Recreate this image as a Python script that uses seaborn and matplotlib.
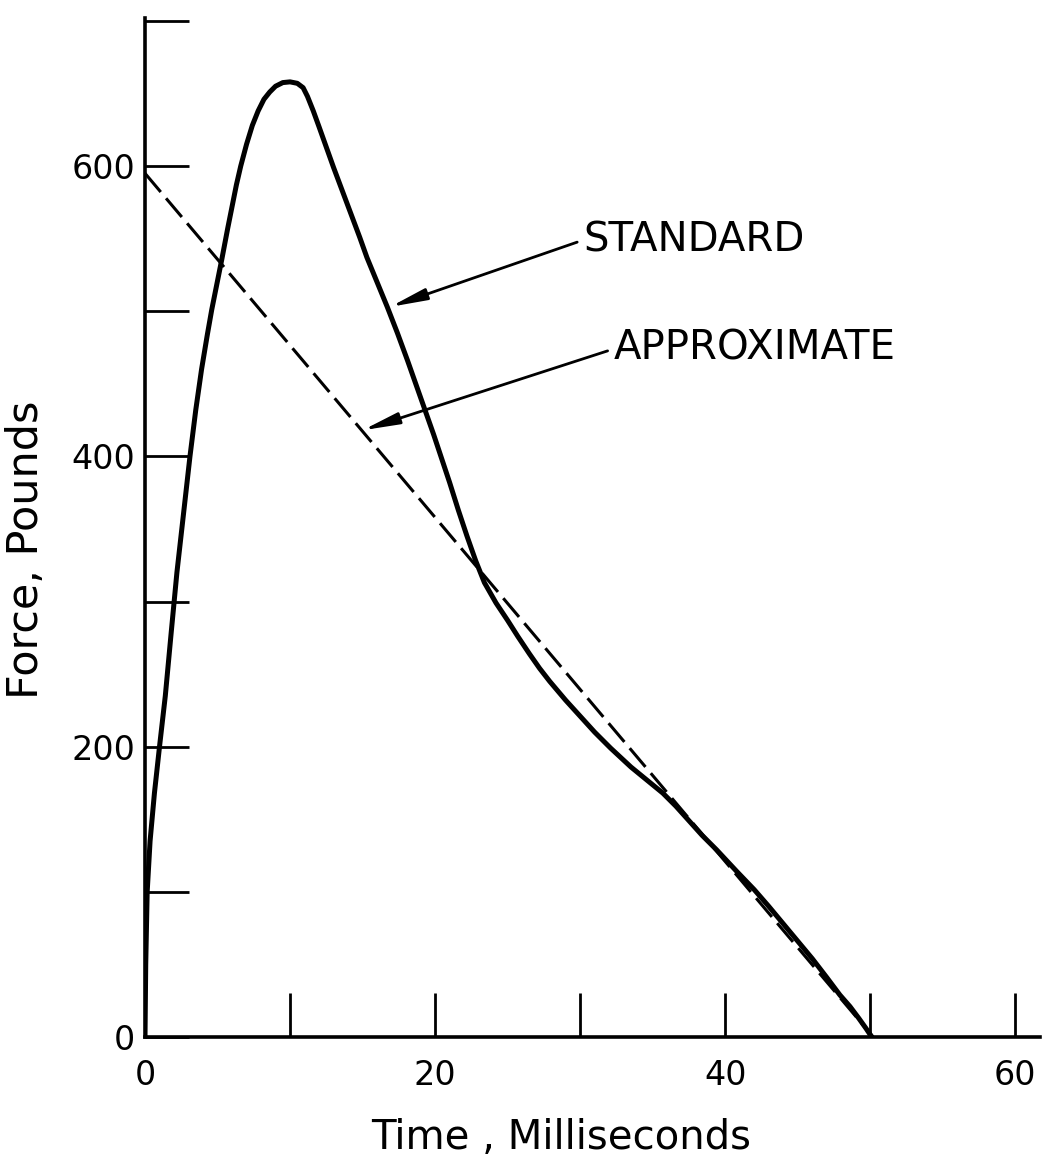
import matplotlib
matplotlib.use("Agg")
import matplotlib.pyplot as plt
import seaborn as sns
import pandas as pd

# ---- data ----
standard_time = [0, 0.05, 0.15, 0.35, 0.65, 1.0, 1.4, 1.8, 2.2, 2.65, 3.1, 3.5, 3.9,
                 4.3, 4.6, 5.0, 5.3, 5.7, 6.0, 6.3, 6.6, 7.0, 7.4, 7.8, 8.2, 8.6,
                 9.0, 9.5, 10.0, 10.5, 10.9, 11.2, 11.6, 12.0, 12.5, 13.0, 13.6,
                 14.2, 14.8, 15.3, 16.0, 16.7, 17.4, 18.1, 18.7, 19.3, 19.9, 20.4,
                 21.0, 21.6, 22.2, 22.8, 23.4, 24.2, 25.0, 25.7, 26.5, 27.2, 27.9,
                 29.0, 30.0, 31.0, 32.1, 33.5, 34.6, 35.7, 36.6, 37.5, 38.4, 39.4,
                 40.8, 42.0, 43.0, 44.0, 45.0, 46.0, 47.0, 47.9, 48.6, 49.2, 49.7,
                 50.1]
standard_force = [0, 50, 100, 135, 168, 200, 235, 278, 320, 360, 400, 432, 460,
                  484, 501, 521, 536, 557, 572, 587, 600, 615, 628, 638, 646, 651,
                  655, 657.5, 658, 657, 654, 648, 638, 627, 613, 599, 583,
                  567, 551, 537, 520, 503, 485, 466, 449, 432, 415, 400,
                  382, 363, 345, 328, 313, 299, 287, 276, 264, 254, 245,
                  232, 221, 210, 199, 186, 177, 168, 159, 149, 139, 129,
                  114, 101.5, 90, 78, 66, 54, 41, 29, 21, 13, 6,
                  0]

approx_time = [0, 50.2]
approx_force = [595, 0]

x_ticks = [0, 10, 20, 30, 40, 50, 60]
x_tick_labels = ["0", "", "20", "", "40", "", "60"]
y_ticks = [0, 100, 200, 300, 400, 500, 600, 700]
y_tick_labels = ["0", "", "200", "", "400", "", "600", ""]

x_label = "Time , Milliseconds"
y_label = "Force, Pounds"
label_standard = "STANDARD"
label_approx = "APPROXIMATE"

# ---- figure ----
sns.set_style("ticks")
plt.rcParams["font.family"] = ["DejaVu Sans"]
plt.rcParams["text.color"] = "black"
plt.rcParams["axes.labelcolor"] = "black"

fig = plt.figure(figsize=(10.48, 11.62), dpi=100)
ax = fig.add_axes([145 / 1048, 125 / 1162, 895 / 1048, 1019 / 1162])

std_df = pd.DataFrame({"t": standard_time, "f": standard_force})
app_df = pd.DataFrame({"t": approx_time, "f": approx_force})

sns.lineplot(data=std_df, x="t", y="f", ax=ax, color="black", lw=3.6,
             sort=False, estimator=None, solid_capstyle="round",
             solid_joinstyle="round")
sns.lineplot(data=app_df, x="t", y="f", ax=ax, color="black", lw=2.2,
             sort=False, estimator=None, dashes=False)
ax.lines[-1].set_dashes((8, 2.7))

ax.set_xlim(0, 61.7)
ax.set_ylim(0, 702)

ax.set_xticks(x_ticks)
ax.set_xticklabels(x_tick_labels)
ax.set_yticks(y_ticks)
ax.set_yticklabels(y_tick_labels)

ax.tick_params(axis="both", direction="in", length=32, width=2, colors="black",
               labelsize=24)
ax.tick_params(axis="x", pad=16)
ax.tick_params(axis="y", pad=7)

for side in ["top", "right"]:
    ax.spines[side].set_visible(False)
for side in ["left", "bottom"]:
    ax.spines[side].set_linewidth(2.6)
    ax.spines[side].set_color("black")

ax.set_xlabel(x_label, fontsize=29, color="black")
ax.set_ylabel(y_label, fontsize=31, color="black")
ax.xaxis.set_label_coords(0.465, -0.079)
ax.yaxis.set_label_coords(-0.110, 0.478)

arrow_kw = dict(arrowstyle="-|>,head_length=0.75,head_width=0.12", color="black",
                lw=2.0, shrinkA=2, shrinkB=0, relpos=(0, 0.5))
ax.annotate(label_standard, xy=(16.9, 503), xytext=(30.2, 549),
            fontsize=29, va="center", ha="left", color="black",
            arrowprops=arrow_kw)
ax.annotate(label_approx, xy=(15.0, 418), xytext=(32.3, 474),
            fontsize=29, va="center", ha="left", color="black",
            arrowprops=arrow_kw)

fig.savefig("out.png", dpi=100, facecolor="white")
